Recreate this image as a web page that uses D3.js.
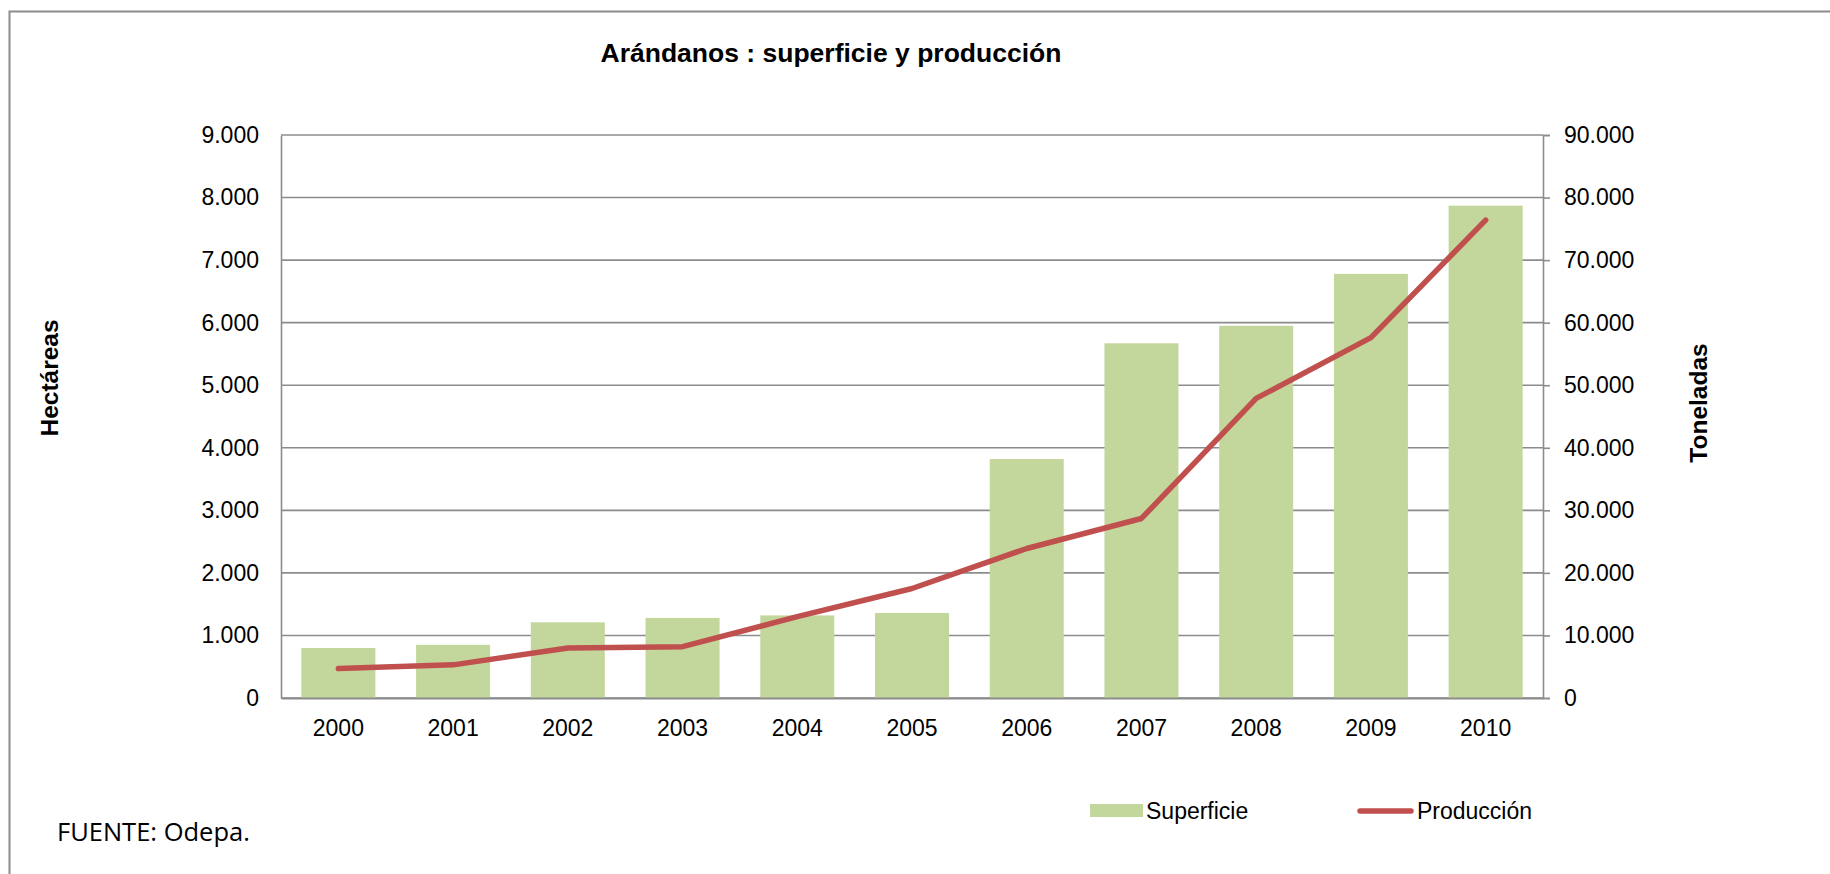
<!DOCTYPE html>
<html>
<head>
<meta charset="utf-8">
<script src="https://cdn.jsdelivr.net/npm/d3@7"></script>
<style>
  body { margin: 0; background: #fff; }
  svg { display: block; }
  .tick text { font-family: "Liberation Sans", Arial, sans-serif; font-size: 23px; fill: #000; }
</style>
</head>
<body>
<svg id="chart" width="1830" height="874"></svg>
<script>
// data
let years = ['2000', '2001', '2002', '2003', '2004', '2005', '2006', '2007', '2008', '2009', '2010']
let superficie = [800, 850, 1210, 1280, 1320, 1360, 3820, 5670, 5950, 6780, 7870]
let produccion = [4700, 5300, 8000, 8200, 13000, 17500, 23900, 28700, 47900, 57600, 76400]
let leftTicks = [0, 1000, 2000, 3000, 4000, 5000, 6000, 7000, 8000, 9000]
let rightTicks = [0, 10000, 20000, 30000, 40000, 50000, 60000, 70000, 80000, 90000]

let svg = d3.select('#chart')
let grey = '#8c8c8c'
let sans = '"Liberation Sans", Arial, sans-serif'

let plot = { left: 281, right: 1543, top: 135, bottom: 698 }

let es = d3.formatLocale({ decimal: ',', thousands: '.', grouping: [3], currency: ['$', ''] })
let fmt = es.format(',d')

let x = d3.scaleBand().domain(years).range([plot.left, plot.right])
  .paddingInner(0.355).paddingOuter(0.1775)
let yL = d3.scaleLinear().domain([0, 9000]).range([plot.bottom, plot.top])
let yR = d3.scaleLinear().domain([0, 90000]).range([plot.bottom, plot.top])

// outer chart frame (only left and top edges fall inside the picture)
svg.append('path')
  .attr('d', 'M9.5,900 L9.5,11.5 L1840,11.5')
  .attr('fill', 'none').attr('stroke', grey).attr('stroke-width', 2)

// title
svg.append('text')
  .attr('x', 831).attr('y', 62)
  .attr('text-anchor', 'middle')
  .style('font-family', sans).style('font-weight', 'bold').style('font-size', '26.5px')
  .text('Arándanos : superficie y producción')

// gridlines
svg.append('g').selectAll('line').data(leftTicks).join('line')
  .attr('x1', plot.left).attr('x2', plot.right)
  .attr('y1', d => yL(d)).attr('y2', d => yL(d))
  .attr('stroke', grey).attr('stroke-width', 1.6)

// bars
svg.append('g').selectAll('rect').data(superficie).join('rect')
  .attr('x', (d, i) => x(years[i]))
  .attr('width', x.bandwidth())
  .attr('y', d => yL(d))
  .attr('height', d => yL(0) - yL(d))
  .attr('fill', '#c3d69b')

// axes
let axL = d3.axisLeft(yL).tickValues(leftTicks).tickFormat(fmt).tickSize(0).tickPadding(22)
svg.append('g').attr('transform', `translate(${plot.left},0)`).call(axL)
  .call(g => g.select('.domain').attr('stroke', grey).attr('stroke-width', 1.6))

let axR = d3.axisRight(yR).tickValues(rightTicks).tickFormat(fmt).tickSize(7).tickPadding(14)
svg.append('g').attr('transform', `translate(${plot.right},0)`).call(axR)
  .call(g => g.select('.domain').attr('stroke', grey).attr('stroke-width', 1.6))
  .call(g => g.selectAll('.tick line').attr('stroke', grey).attr('stroke-width', 1.6))

let axB = d3.axisBottom(x).tickSize(0).tickPadding(22)
svg.append('g').attr('transform', `translate(0,${plot.bottom})`).call(axB)
  .call(g => g.select('.domain').attr('stroke', grey).attr('stroke-width', 2))

// production line
let line = d3.line()
  .x((d, i) => x(years[i]) + x.bandwidth() / 2)
  .y(d => yR(d))
svg.append('path')
  .datum(produccion)
  .attr('d', line)
  .attr('fill', 'none')
  .attr('stroke', '#c0504d')
  .attr('stroke-width', 5.5)
  .attr('stroke-linecap', 'round')
  .attr('stroke-linejoin', 'round')

// axis titles
svg.append('text')
  .attr('transform', 'translate(58,378) rotate(-90)')
  .attr('text-anchor', 'middle')
  .style('font-family', sans).style('font-weight', 'bold').style('font-size', '24.5px')
  .text('Hectáreas')

svg.append('text')
  .attr('transform', 'translate(1707,403) rotate(-90)')
  .attr('text-anchor', 'middle')
  .style('font-family', sans).style('font-weight', 'bold').style('font-size', '24.5px')
  .text('Toneladas')

// legend
let legend = svg.append('g').style('font-family', sans).style('font-size', '23px')
legend.append('rect')
  .attr('x', 1090).attr('y', 804).attr('width', 53).attr('height', 13)
  .attr('fill', '#c3d69b')
legend.append('text').attr('x', 1146).attr('y', 819).text('Superficie')
legend.append('line')
  .attr('x1', 1360).attr('x2', 1411).attr('y1', 811).attr('y2', 811)
  .attr('stroke', '#c0504d').attr('stroke-width', 5.5).attr('stroke-linecap', 'round')
legend.append('text').attr('x', 1417).attr('y', 819).text('Producción')

// source note
svg.append('text')
  .attr('x', 57).attr('y', 841)
  .style('font-family', '"Open Sans", Carlito, Calibri, sans-serif').style('font-size', '25.5px')
  .text('FUENTE: Odepa.')
</script>
</body>
</html>
